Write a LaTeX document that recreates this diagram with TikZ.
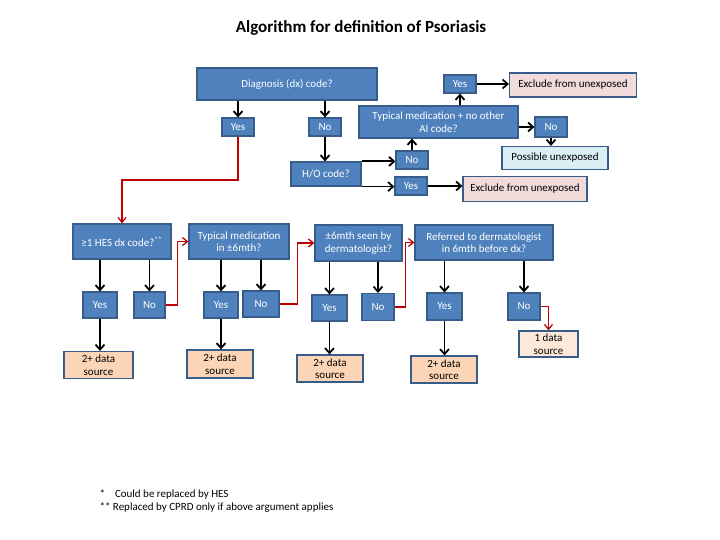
\documentclass[tikz,border=0pt]{standalone}
\usepackage{fontspec}
\setmainfont{Carlito}
\usetikzlibrary{arrows.meta}
\definecolor{boxblue}{HTML}{4F81BD}
\definecolor{boxline}{HTML}{385D8A}
\definecolor{peach}{HTML}{FBD5B5}
\definecolor{lightpeach}{HTML}{FDE9D9}
\definecolor{pinkbox}{HTML}{F2DCDB}
\definecolor{paleblue}{HTML}{DBEEF4}
\definecolor{darkred}{HTML}{C00000}
\begin{document}
\begin{tikzpicture}[x=1pt, y=-1pt,
    qbox/.style={draw=boxline, fill=boxblue, line width=1.2pt, text=white, align=center, inner sep=0pt, font=\fontsize{11}{12.5}\selectfont},
    ans/.style={qbox, minimum width=32pt, minimum height=18pt},
    bigans/.style={qbox, minimum width=34pt, minimum height=26pt},
    outbox/.style={draw=boxline, line width=1.2pt, text=black, align=center, inner sep=0pt, font=\fontsize{11}{12.5}\selectfont},
    arr/.style={-{Straight Barb[length=5pt,width=9pt]}, line width=1.8pt},
    redarr/.style={-{Straight Barb[length=5pt,width=8pt]}, line width=1.3pt, darkred}]
    \useasboundingbox (0,0) rectangle (720,540);

    % 标题
    \node[font=\fontsize{17}{19}\selectfont\bfseries] (title) at (361,28) {Algorithm for definition of Psoriasis};

    % 上部：诊断码
    \node[qbox, minimum width=180pt, minimum height=32pt] (dx) at (287,84) {Diagnosis (dx) code?};
    \node[ans] (dxyes) at (238,127) {Yes};
    \node[ans] (dxno) at (325,127) {No};
    \draw[arr] (dxyes |- dx.south) -- (dxyes.north);
    \draw[arr] (dxno |- dx.south) -- (dxno.north);

    % H/O 码及排除
    \node[qbox, minimum width=70pt, minimum height=24pt] (ho) at (326,174) {H/O code?};
    \node[ans] (hono) at (412,160) {No};
    \node[ans] (hoyes) at (411,186) {Yes};
    \node[outbox, fill=pinkbox, minimum width=124pt, minimum height=25pt] (excltwo) at (525,189) {Exclude from unexposed};
    \draw[arr] (dxno.south) -- (dxno.south |- ho.north);
    \draw[arr] (ho.north east) -- (ho.north east -| hono.west);
    \draw[arr] (ho.south east) -- (ho.south east -| hoyes.west);
    \draw[arr] (hoyes.east) -- (hoyes.east -| excltwo.west);

    % 典型用药
    \node[qbox, minimum width=159pt, minimum height=32pt] (typai) at (438.5,122) {Typical medication + no other\\AI code?};
    \node[ans] (typyes) at (460,84) {Yes};
    \node[ans, minimum height=20pt] (typno) at (551,127) {No};
    \node[outbox, fill=pinkbox, minimum width=127pt, minimum height=24pt] (exclone) at (573,85) {Exclude from unexposed};
    \node[outbox, fill=paleblue, minimum width=106pt, minimum height=23pt] (possible) at (555,158) {Possible unexposed};
    \draw[arr] (hono.north) -- (hono.north |- typai.south);
    \draw[arr] (typyes |- typai.north) -- (typyes.south);
    \draw[arr] (typyes.east) -- (typyes.east -| exclone.west);
    \draw[arr] (typai.east |- typno) -- (typno.west);
    \draw[arr] (typno.south) -- (typno.south |- possible.north);

    % 红线到下部
    \coordinate (bendone) at (0,180);
    \node[qbox, minimum width=98pt, minimum height=35pt] (hes) at (122,241.5) {≥1 HES dx code?\textsuperscript{**}};
    \draw[redarr] (dxyes.south) -- (dxyes.south |- bendone) -| (hes.north);

    % 下部四个问题
    \node[qbox, minimum width=100pt, minimum height=35pt] (typsix) at (239,241.5) {Typical medication\\in ±6mth?};
    \node[qbox, minimum width=87pt, minimum height=36pt] (seen) at (358.5,243) {±6mth seen by\\dermatologist?};
    \node[qbox, minimum width=138pt, minimum height=35pt] (refer) at (484,242.5) {Referred to dermatologist\\in 6mth before dx?};

    % 是/否
    \node[bigans] (hesyes) at (100,305) {Yes};
    \node[bigans, minimum width=31pt] (hesno) at (149.5,305) {No};
    \node[bigans] (typsixyes) at (221,305) {Yes};
    \node[bigans, minimum width=36pt] (typsixno) at (261,304) {No};
    \node[bigans, minimum width=35pt] (seenyes) at (329.5,308) {Yes};
    \node[bigans, minimum width=32pt, minimum height=27pt] (seenno) at (378,307) {No};
    \node[bigans, minimum width=35pt, minimum height=27pt] (referyes) at (444.5,306.5) {Yes};
    \node[bigans, minimum width=32pt, minimum height=27pt] (referno) at (524,306.5) {No};
    \draw[arr] (hesyes |- hes.south) -- (hesyes.north);
    \draw[arr] (hesno |- hes.south) -- (hesno.north);
    \draw[arr] (typsixyes |- typsix.south) -- (typsixyes.north);
    \draw[arr] (typsixno |- typsix.south) -- (typsixno.north);
    \draw[arr] (seenyes |- seen.south) -- (seenyes.north);
    \draw[arr] (seenno |- seen.south) -- (seenno.north);
    \draw[arr] (referyes |- refer.south) -- (referyes.north);
    \draw[arr] (referno |- refer.south) -- (referno.north);

    % 数据源
    \node[outbox, fill=peach, minimum width=69pt, minimum height=27pt] (dsone) at (98.5,365) {2+ data\\source};
    \node[outbox, fill=peach, minimum width=66pt, minimum height=28pt] (dstwo) at (220,364) {2+ data\\source};
    \node[outbox, fill=peach, minimum width=66pt, minimum height=27pt] (dsthree) at (330,368.5) {2+ data\\source};
    \node[outbox, fill=peach, minimum width=66pt, minimum height=27pt] (dsfour) at (444,369.5) {2+ data\\source};
    \node[outbox, fill=lightpeach, minimum width=59pt, minimum height=26pt] (dsone1) at (548.5,344) {1 data\\source};
    \draw[arr] (hesyes.south) -- (hesyes.south |- dsone.north);
    \draw[arr] (typsixyes.south) -- (typsixyes.south |- dstwo.north);
    \draw[arr] (seenyes.south) -- (seenyes.south |- dsthree.north);
    \draw[arr] (referyes.south) -- (referyes.south |- dsfour.north);

    % 红线：否 -> 下一个问题
    \draw[redarr] (hesno.east) -- ++(12,0) |- (typsix.west);
    \draw[redarr] (typsixno.east) -- ++(18,0) |- (seen.west);
    \draw[redarr] (seenno.east) -- ++(11,0) |- (refer.west);
    \draw[redarr] (referno.east) -| (dsone1.north);

    % 脚注
    \node[anchor=base west, font=\fontsize{11}{13}\selectfont] (noteone) at (96,497) {*\hspace{10pt}Could be replaced by HES};
    \node[anchor=base west, font=\fontsize{11}{13}\selectfont] (notetwo) at (96,510) {** Replaced by CPRD only if above argument applies};
\end{tikzpicture}
\end{document}
